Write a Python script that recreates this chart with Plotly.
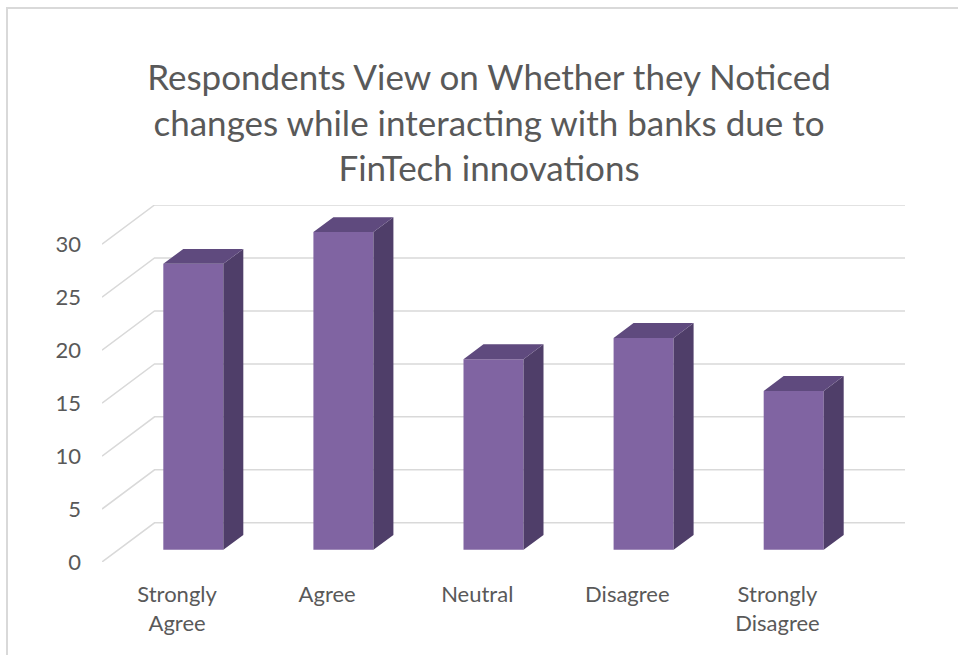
import plotly.graph_objects as go

# Survey responses
categories = ["Strongly<br>Agree", "Agree", "Neutral", "Disagree", "Strongly<br>Disagree"]
responses = [27, 30, 18, 20, 15]
y_ticks = [0, 5, 10, 15, 20, 25, 30]
title_text = ("Respondents View on Whether they Noticed<br>"
              "changes while interacting with banks due to<br>"
              "FinTech innovations")

# Canvas and plot-area geometry
W, H = 958, 655
L, R, T, B = 102, 53, 205, 93
PW, PH = W - L - R, H - T - B

# Oblique depth of the 3-D box (x in category units, y in value units)
DX, DY = 0.35, 3.7
F1, F2 = 0.31, 0.69          # front / back depth fraction of each column
BAR_W = 0.4

FRONT = "#8064A2"
SIDE = "#4F3E69"
TOP = "#5F4A7E"
GRID = "#D9D9D9"
TEXT = "#595959"

n = len(responses)
x_lo, x_hi = -0.5, n - 0.5 + DX
y_lo, y_hi = 0, max(y_ticks) + DY

fig = go.Figure()

# Front faces of the columns
b0 = F1 * DY
fig.add_trace(go.Bar(
    x=[i + F1 * DX for i in range(n)],
    y=responses,
    base=b0,
    width=BAR_W,
    marker=dict(color=FRONT, line=dict(width=0)),
    hoverinfo="skip",
))

# Side and top faces of the columns
ddx, ddy = (F2 - F1) * DX, (F2 - F1) * DY
side_x, side_y, top_x, top_y = [], [], [], []
for i, v in enumerate(responses):
    xl = i + F1 * DX - BAR_W / 2
    xr = xl + BAR_W
    side_x += [xr, xr + ddx, xr + ddx, xr, xr, None]
    side_y += [b0, b0 + ddy, b0 + v + ddy, b0 + v, b0, None]
    top_x += [xl, xl + ddx, xr + ddx, xr, xl, None]
    top_y += [b0 + v, b0 + v + ddy, b0 + v + ddy, b0 + v, b0 + v, None]

fig.add_trace(go.Scatter(x=side_x, y=side_y, mode="lines", fill="toself",
                         fillcolor=SIDE, line=dict(width=0, color=SIDE),
                         hoverinfo="skip"))
fig.add_trace(go.Scatter(x=top_x, y=top_y, mode="lines", fill="toself",
                         fillcolor=TOP, line=dict(width=0, color=TOP),
                         hoverinfo="skip"))

# Gridlines: floor diagonal plus back-wall line for each tick
shapes = []
for t in y_ticks:
    shapes.append(dict(
        type="path", xref="x", yref="y", layer="below",
        path=f"M {x_lo},{t} L {x_lo + DX},{t + DY} L {x_hi},{t + DY}",
        line=dict(color=GRID, width=1.5),
    ))

# Chart-area border (left and top edges fall inside the canvas)
def px_to_paper_x(px):
    return (px - L) / PW

def px_to_paper_y(py):
    return (H - B - py) / PH

shapes.append(dict(
    type="rect", xref="paper", yref="paper", layer="below",
    x0=px_to_paper_x(7), x1=px_to_paper_x(W + 40),
    y0=px_to_paper_y(H + 40), y1=px_to_paper_y(8),
    line=dict(color=GRID, width=2), fillcolor="rgba(0,0,0,0)",
))

fig.update_layout(
    width=W, height=H,
    margin=dict(l=L, r=R, t=T, b=B, pad=0),
    paper_bgcolor="white", plot_bgcolor="white",
    showlegend=False,
    font=dict(family="Lato", color=TEXT),
    title=dict(text=title_text, x=489 / W, xanchor="center",
               y=1 - 90 / H, yanchor="top",
               font=dict(family="Lato", size=35, color=TEXT)),
    shapes=shapes,
    xaxis=dict(range=[x_lo, x_hi], tickvals=list(range(n)), ticktext=categories,
               showgrid=False, zeroline=False, showline=False, ticks="",
               tickfont=dict(size=22, color=TEXT), ticklabelstandoff=17,
               fixedrange=True),
    yaxis=dict(range=[y_lo, y_hi], tickvals=y_ticks, ticktext=[str(t) for t in y_ticks],
               showgrid=False, zeroline=False, showline=False, ticks="",
               tickfont=dict(size=22, color=TEXT), ticklabelstandoff=20,
               fixedrange=True),
)

fig.write_html("out.html")
